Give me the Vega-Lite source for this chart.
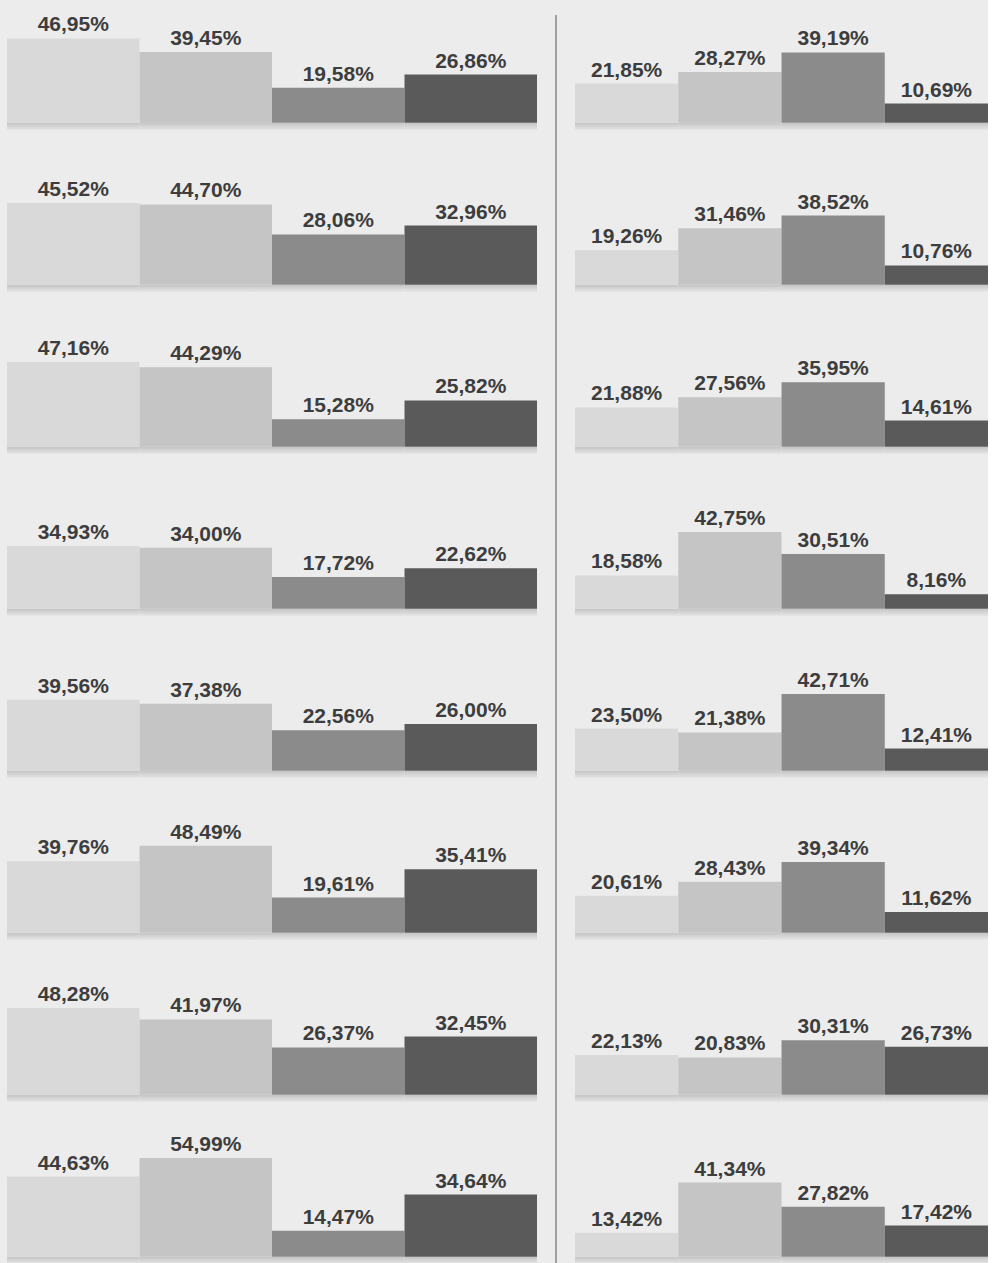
{
  "$schema": "https://vega.github.io/schema/vega-lite/v6.json",
  "background": "#ececec",
  "padding": {"left": 7, "top": 14, "right": 0, "bottom": 0},
  "spacing": 18,
  "config": {
    "view": {"stroke": null},
    "locale": {"number": {"decimal": ",", "thousands": ".", "grouping": [3], "currency": ["", " €"]}}
  },
  "datasets": {
    "left": [
      {"r": 1, "k": 1, "v": 0.4695}, {"r": 1, "k": 2, "v": 0.3945}, {"r": 1, "k": 3, "v": 0.1958}, {"r": 1, "k": 4, "v": 0.2686},
      {"r": 2, "k": 1, "v": 0.4552}, {"r": 2, "k": 2, "v": 0.4470}, {"r": 2, "k": 3, "v": 0.2806}, {"r": 2, "k": 4, "v": 0.3296},
      {"r": 3, "k": 1, "v": 0.4716}, {"r": 3, "k": 2, "v": 0.4429}, {"r": 3, "k": 3, "v": 0.1528}, {"r": 3, "k": 4, "v": 0.2582},
      {"r": 4, "k": 1, "v": 0.3493}, {"r": 4, "k": 2, "v": 0.3400}, {"r": 4, "k": 3, "v": 0.1772}, {"r": 4, "k": 4, "v": 0.2262},
      {"r": 5, "k": 1, "v": 0.3956}, {"r": 5, "k": 2, "v": 0.3738}, {"r": 5, "k": 3, "v": 0.2256}, {"r": 5, "k": 4, "v": 0.2600},
      {"r": 6, "k": 1, "v": 0.3976}, {"r": 6, "k": 2, "v": 0.4849}, {"r": 6, "k": 3, "v": 0.1961}, {"r": 6, "k": 4, "v": 0.3541},
      {"r": 7, "k": 1, "v": 0.4828}, {"r": 7, "k": 2, "v": 0.4197}, {"r": 7, "k": 3, "v": 0.2637}, {"r": 7, "k": 4, "v": 0.3245},
      {"r": 8, "k": 1, "v": 0.4463}, {"r": 8, "k": 2, "v": 0.5499}, {"r": 8, "k": 3, "v": 0.1447}, {"r": 8, "k": 4, "v": 0.3464}
    ],
    "right": [
      {"r": 1, "k": 1, "v": 0.2185}, {"r": 1, "k": 2, "v": 0.2827}, {"r": 1, "k": 3, "v": 0.3919}, {"r": 1, "k": 4, "v": 0.1069},
      {"r": 2, "k": 1, "v": 0.1926}, {"r": 2, "k": 2, "v": 0.3146}, {"r": 2, "k": 3, "v": 0.3852}, {"r": 2, "k": 4, "v": 0.1076},
      {"r": 3, "k": 1, "v": 0.2188}, {"r": 3, "k": 2, "v": 0.2756}, {"r": 3, "k": 3, "v": 0.3595}, {"r": 3, "k": 4, "v": 0.1461},
      {"r": 4, "k": 1, "v": 0.1858}, {"r": 4, "k": 2, "v": 0.4275}, {"r": 4, "k": 3, "v": 0.3051}, {"r": 4, "k": 4, "v": 0.0816},
      {"r": 5, "k": 1, "v": 0.2350}, {"r": 5, "k": 2, "v": 0.2138}, {"r": 5, "k": 3, "v": 0.4271}, {"r": 5, "k": 4, "v": 0.1241},
      {"r": 6, "k": 1, "v": 0.2061}, {"r": 6, "k": 2, "v": 0.2843}, {"r": 6, "k": 3, "v": 0.3934}, {"r": 6, "k": 4, "v": 0.1162},
      {"r": 7, "k": 1, "v": 0.2213}, {"r": 7, "k": 2, "v": 0.2083}, {"r": 7, "k": 3, "v": 0.3031}, {"r": 7, "k": 4, "v": 0.2673},
      {"r": 8, "k": 1, "v": 0.1342}, {"r": 8, "k": 2, "v": 0.4134}, {"r": 8, "k": 3, "v": 0.2782}, {"r": 8, "k": 4, "v": 0.1742}
    ]
  },
  "hconcat": [
    {
      "data": {"name": "left"},
      "facet": {"row": {"field": "r", "type": "ordinal", "header": null}},
      "spacing": 47,
      "bounds": "flush",
      "spec": {
        "width": 530,
        "height": 115,
        "encoding": {
          "x": {"field": "k", "type": "ordinal", "axis": null, "scale": {"paddingInner": 0, "paddingOuter": 0}}
        },
        "layer": [
          {
            "mark": {"type": "bar", "color": {"gradient": "linear", "x1": 0, "y1": 0, "x2": 0, "y2": 1, "stops": [{"offset": 0, "color": "#c4c4c4"}, {"offset": 1, "color": "#e6e6e6"}]}},
            "encoding": {
              "y": {"datum": 0, "type": "quantitative", "scale": {"domain": [-0.04, 0.6], "nice": false, "zero": false}, "axis": null},
              "y2": {"datum": -0.04}
            }
          },
          {
            "mark": {"type": "bar"},
            "encoding": {
              "y": {"field": "v", "type": "quantitative", "scale": {"domain": [-0.04, 0.6], "nice": false, "zero": false}, "axis": null},
              "y2": {"datum": 0},
              "color": {"field": "k", "type": "ordinal", "legend": null, "scale": {"domain": [1, 2, 3, 4], "range": ["#d9d9d9", "#c5c5c5", "#8b8b8b", "#5a5a5a"]}}
            }
          },
          {
            "mark": {"type": "text", "baseline": "alphabetic", "dy": -7, "font": "Liberation Sans", "fontSize": 21, "fontWeight": "bold", "color": "#3d3d3d"},
            "encoding": {
              "y": {"field": "v", "type": "quantitative", "scale": {"domain": [-0.04, 0.6], "nice": false, "zero": false}, "axis": null},
              "text": {"field": "v", "type": "quantitative", "format": ".2%"}
            }
          }
        ]
      }
    },
    {
      "data": {"values": [{"c": 0}]},
      "width": 2,
      "height": 1249,
      "mark": {"type": "rule", "color": "#555555", "strokeWidth": 1},
      "encoding": {
        "x": {"field": "c", "type": "quantitative", "scale": {"domain": [-1, 1]}, "axis": null}
      }
    },
    {
      "data": {"name": "right"},
      "facet": {"row": {"field": "r", "type": "ordinal", "header": null}},
      "spacing": 47,
      "bounds": "flush",
      "spec": {
        "width": 413,
        "height": 115,
        "encoding": {
          "x": {"field": "k", "type": "ordinal", "axis": null, "scale": {"paddingInner": 0, "paddingOuter": 0}}
        },
        "layer": [
          {
            "mark": {"type": "bar", "color": {"gradient": "linear", "x1": 0, "y1": 0, "x2": 0, "y2": 1, "stops": [{"offset": 0, "color": "#c4c4c4"}, {"offset": 1, "color": "#e6e6e6"}]}},
            "encoding": {
              "y": {"datum": 0, "type": "quantitative", "scale": {"domain": [-0.04, 0.6], "nice": false, "zero": false}, "axis": null},
              "y2": {"datum": -0.04}
            }
          },
          {
            "mark": {"type": "bar"},
            "encoding": {
              "y": {"field": "v", "type": "quantitative", "scale": {"domain": [-0.04, 0.6], "nice": false, "zero": false}, "axis": null},
              "y2": {"datum": 0},
              "color": {"field": "k", "type": "ordinal", "legend": null, "scale": {"domain": [1, 2, 3, 4], "range": ["#d9d9d9", "#c5c5c5", "#8b8b8b", "#5a5a5a"]}}
            }
          },
          {
            "mark": {"type": "text", "baseline": "alphabetic", "dy": -7, "font": "Liberation Sans", "fontSize": 21, "fontWeight": "bold", "color": "#3d3d3d"},
            "encoding": {
              "y": {"field": "v", "type": "quantitative", "scale": {"domain": [-0.04, 0.6], "nice": false, "zero": false}, "axis": null},
              "text": {"field": "v", "type": "quantitative", "format": ".2%"}
            }
          }
        ]
      }
    }
  ]
}
